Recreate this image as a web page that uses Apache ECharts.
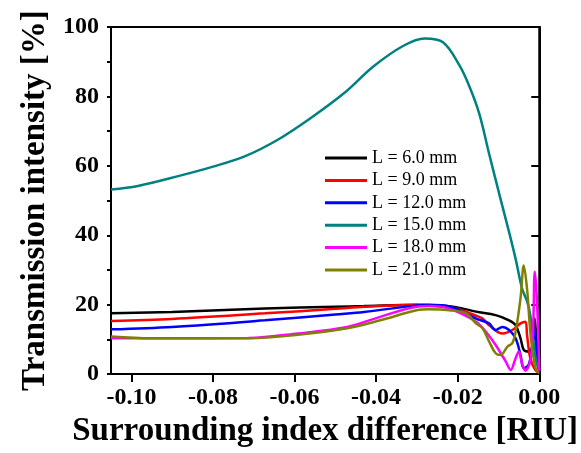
<!DOCTYPE html>
<html>
<head>
<meta charset="utf-8">
<script src="https://cdn.jsdelivr.net/npm/echarts@6/dist/echarts.min.js"></script>
<style>
  html, body { margin: 0; padding: 0; background: #fff; }
  #chart { width: 581px; height: 453px; }
</style>
</head>
<body>
<div id="chart"></div>
<script>
// ── data: [index difference, transmission %] ──
const L6 = [
  [-0.105, 17.5], [-0.09, 17.9], [-0.0673, 18.9], [-0.05, 19.4], [-0.043, 19.6],
  [-0.030, 20.0], [-0.025, 19.8], [-0.0204, 19.3], [-0.0155, 18.0], [-0.0107, 17.0],
  [-0.0074, 15.5], [-0.0058, 14.1], [-0.0046, 10.3], [-0.0038, 7.0], [-0.0026, 6.5],
  [-0.0018, 7.5], [-0.0012, 16.0], [-0.0006, 9.0], [0, 1.0]
]
const L9 = [
  [-0.105, 15.3], [-0.09, 15.9], [-0.0673, 17.5], [-0.05, 18.8], [-0.043, 19.4],
  [-0.030, 19.9], [-0.025, 19.6], [-0.0204, 18.9], [-0.0155, 16.8], [-0.0139, 16.0],
  [-0.0123, 14.1], [-0.0090, 11.7], [-0.0066, 12.7], [-0.0046, 14.6], [-0.0034, 15.1],
  [-0.0030, 11.3], [-0.0022, 4.6], [-0.0010, 1.2], [0, 0.3]
]
const L12 = [
  [-0.105, 12.9], [-0.09, 13.6], [-0.0673, 15.5], [-0.05, 17.2], [-0.043, 17.9],
  [-0.030, 19.8], [-0.027, 20.0], [-0.022, 19.5], [-0.0155, 16.0], [-0.0123, 14.6],
  [-0.0107, 12.7], [-0.0090, 13.6], [-0.0074, 12.7], [-0.0058, 10.3], [-0.0046, 5.5],
  [-0.0038, 1.7], [-0.0026, 2.7], [-0.0018, 7.4], [-0.0012, 13.0], [-0.0006, 5.0], [0, 0.5]
]
const L15 = [
  [-0.105, 53.2], [-0.0984, 54.2], [-0.0883, 57.1], [-0.0802, 59.7], [-0.0721, 62.8],
  [-0.0640, 67.6], [-0.0560, 73.8], [-0.0479, 80.9], [-0.0406, 88.7], [-0.0333, 94.6],
  [-0.0281, 96.7], [-0.0236, 95.6], [-0.0196, 89.0], [-0.0171, 82.8], [-0.0147, 75.0],
  [-0.0123, 63.5], [-0.0099, 52.3], [-0.0074, 40.9], [-0.0058, 33.2], [-0.0042, 24.6],
  [-0.0030, 21.0], [-0.0022, 17.0], [-0.0015, 10.0], [-0.0008, 4.0], [0, 1.0]
]
const L18 = [
  [-0.105, 10.3], [-0.09, 10.3], [-0.0713, 10.4], [-0.0592, 11.7], [-0.0471, 13.6],
  [-0.0390, 16.5], [-0.0301, 19.4], [-0.027, 19.6], [-0.022, 18.8], [-0.0155, 15.1],
  [-0.0131, 12.2], [-0.0107, 8.4], [-0.0082, 3.6], [-0.0070, 1.2], [-0.0058, 4.6],
  [-0.0050, 6.5], [-0.0042, 3.0], [-0.0034, 1.0], [-0.0024, 3.0], [-0.0016, 10.0],
  [-0.0011, 29.5], [-0.0006, 22.0], [0, 1.0]
]
const L21 = [
  [-0.105, 10.8], [-0.095, 10.3], [-0.0713, 10.3], [-0.0592, 11.3], [-0.0471, 13.2],
  [-0.0390, 15.5], [-0.0301, 18.4], [-0.027, 18.7], [-0.022, 18.4], [-0.0179, 17.5],
  [-0.0155, 14.6], [-0.0139, 13.2], [-0.0123, 9.4], [-0.0107, 6.0], [-0.0095, 5.5],
  [-0.0078, 7.9], [-0.0066, 8.9], [-0.0058, 12.2], [-0.0046, 21.8], [-0.0038, 31.3],
  [-0.0030, 24.6], [-0.0022, 12.2], [-0.0014, 4.6], [-0.0006, 0.8], [0, 0.5]
]

const seriesNames  = ['L = 6.0 mm', 'L = 9.0 mm', 'L = 12.0 mm', 'L = 15.0 mm', 'L = 18.0 mm', 'L = 21.0 mm']
const seriesData   = [L6, L9, L12, L15, L18, L21]
const seriesColors = ['#000000', '#ff0000', '#0000ff', '#008080', '#ff00ff', '#808000']

const xTicks = [-0.10, -0.08, -0.06, -0.04, -0.02, 0.00]

const FONT = "'Liberation Serif', 'Times New Roman', serif"

const chart = echarts.init(document.getElementById('chart'), null, { renderer: 'canvas' })

const yBase = { type: 'value', min: 0, max: 100, position: 'left', splitLine: { show: false } }

chart.setOption({
  animation: false,
  backgroundColor: '#fff',
  grid: {
    left: 111, right: 37, top: 27, bottom: 77,
    show: true, borderColor: '#000', borderWidth: 2,
  },
  legend: {
    orient: 'vertical',
    left: 325,
    top: 149,
    padding: 0,
    icon: 'rect',
    itemWidth: 42,
    itemHeight: 3,
    itemGap: 4.4,
    data: seriesNames,
    textStyle: { fontFamily: FONT, fontSize: 18, color: '#000', lineHeight: 18 },
  },
  xAxis: {
    type: 'value',
    min: -0.105,
    max: 0,
    name: 'Surrounding index difference [RIU]',
    nameLocation: 'middle',
    nameGap: 38,
    nameTextStyle: { fontFamily: FONT, fontSize: 33, fontWeight: 'bold', color: '#000' },
    axisLine: { lineStyle: { color: '#000', width: 2 } },
    axisTick: { customValues: xTicks, length: 8, lineStyle: { color: '#000', width: 2 } },
    axisLabel: {
      customValues: xTicks,
      formatter: v => v.toFixed(2),
      fontFamily: FONT, fontSize: 24, fontWeight: 'bold', color: '#000', margin: 12,
    },
    splitLine: { show: false },
  },
  yAxis: [
    {
      ...yBase,
      interval: 20,
      name: 'Transmission intensity [%]',
      nameLocation: 'middle',
      nameGap: 58,
      nameTextStyle: { fontFamily: FONT, fontSize: 33, fontWeight: 'bold', color: '#000' },
      axisLine: { show: true, lineStyle: { color: '#000', width: 2 } },
      axisTick: { show: true, length: 8, lineStyle: { color: '#000', width: 2 } },
      axisLabel: { fontFamily: FONT, fontSize: 24, fontWeight: 'bold', color: '#000', margin: 12 },
    },
    {
      // minor ticks every 10 %
      ...yBase,
      interval: 10,
      axisLine: { show: false },
      axisTick: { show: true, length: 4, lineStyle: { color: '#000', width: 2 } },
      axisLabel: { show: false },
    },
  ],
  series: seriesNames.map((name, i) => ({
    name,
    type: 'line',
    data: seriesData[i],
    symbol: 'none',
    smooth: 0.35,
    color: seriesColors[i],
    lineStyle: { width: 2.5, color: seriesColors[i] },
  })),
})
</script>
</body>
</html>
